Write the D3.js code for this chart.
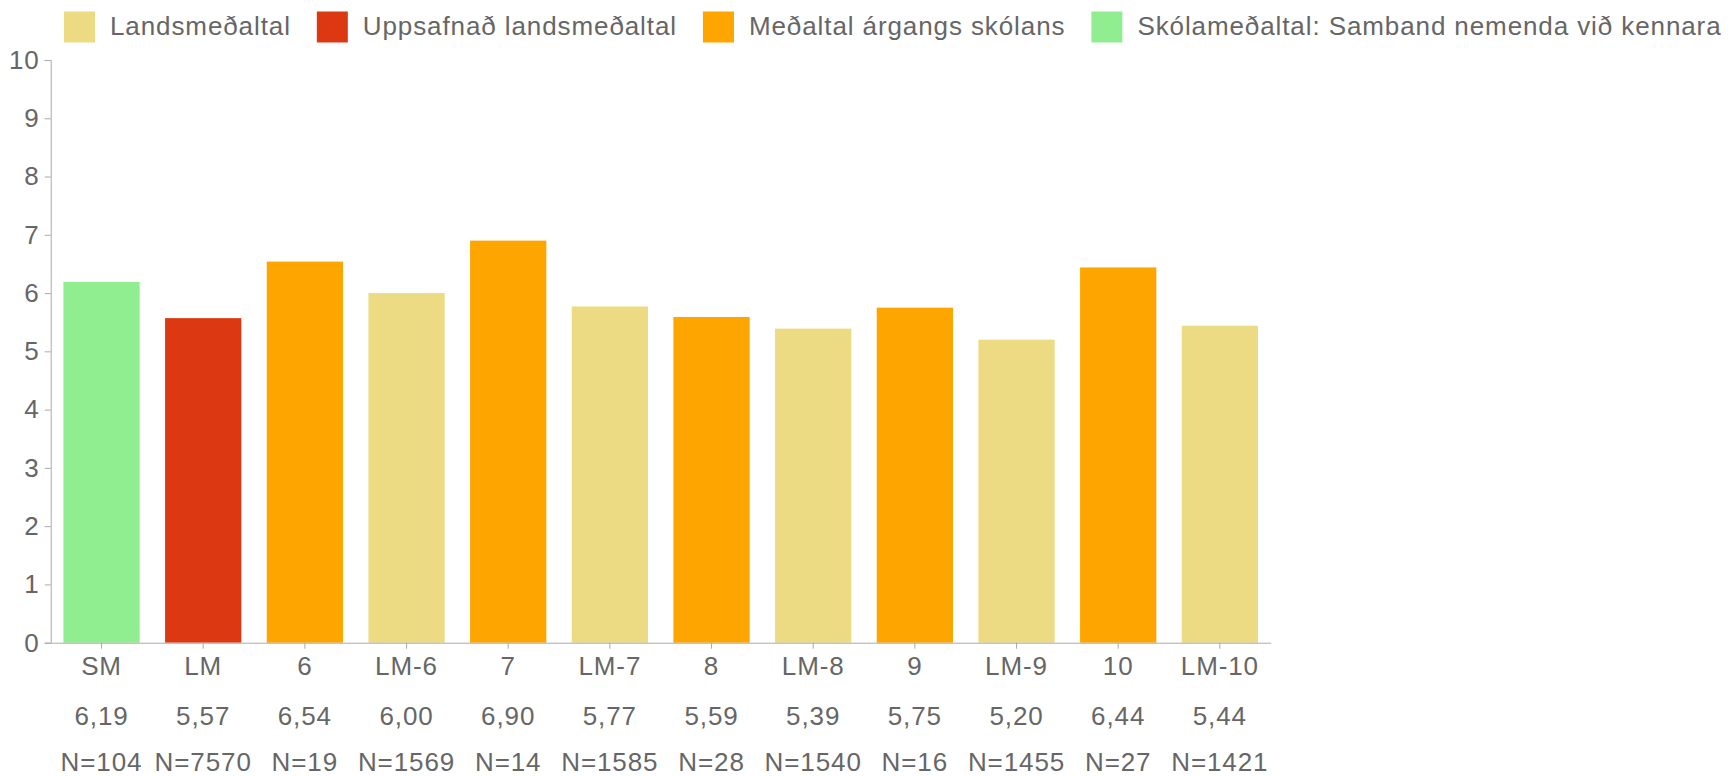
<!DOCTYPE html>
<html>
<head>
<meta charset="utf-8">
<script src="https://cdn.jsdelivr.net/npm/d3@7"></script>
<style>
  body { margin: 0; background: #fff; }
  svg { display: block; font-family: "Liberation Sans", Arial, Helvetica, sans-serif; letter-spacing: 0.9px; }
  .axis text { fill: #666; font-size: 26px; }
  .axis path, .axis line { stroke: #aaa; }
</style>
</head>
<body>
<svg id="chart" width="1731" height="776"></svg>
<script>
// categories, values and counts
const categories = ['SM', 'LM', '6', 'LM-6', '7', 'LM-7', '8', 'LM-8', '9', 'LM-9', '10', 'LM-10'];
const values = [6.19, 5.57, 6.54, 6.00, 6.90, 5.77, 5.59, 5.39, 5.75, 5.20, 6.44, 5.44];
const counts = [104, 7570, 19, 1569, 14, 1585, 28, 1540, 16, 1455, 27, 1421];
const seriesOf = [3, 1, 2, 0, 2, 0, 2, 0, 2, 0, 2, 0];

const legendLabels = ['Landsmeðaltal', 'Uppsafnað landsmeðaltal', 'Meðaltal árgangs skólans', 'Skólameðaltal: Samband nemenda við kennara'];
const legendColors = ['#ecdb83', '#dc3912', '#ffa500', '#90ee90'];
const yTicks = [0, 1, 2, 3, 4, 5, 6, 7, 8, 9, 10];

const svg = d3.select('#chart');
const isLocale = d3.formatLocale({ decimal: ',', thousands: '.', grouping: [3], currency: ['', ' kr.'] });
const fmt = isLocale.format('.2f');

const x = d3.scaleBand()
    .domain(categories)
    .range([50.7, 1270.7])
    .paddingInner(0.25)
    .paddingOuter(0.125);

const y = d3.scaleLinear()
    .domain([0, 10])
    .range([642.7, 60]);

// bars
svg.append('g')
    .selectAll('rect')
    .data(categories)
    .enter()
    .append('rect')
    .attr('x', d => x(d))
    .attr('width', x.bandwidth())
    .attr('y', (d, i) => y(values[i]))
    .attr('height', (d, i) => y(0) - y(values[i]))
    .attr('fill', (d, i) => legendColors[seriesOf[i]]);

// y axis
svg.append('g')
    .attr('class', 'axis')
    .attr('transform', 'translate(50.7,0)')
    .call(d3.axisLeft(y).tickValues(yTicks).tickSize(6).tickPadding(5));

// x axis
svg.append('g')
    .attr('class', 'axis')
    .attr('transform', `translate(0,${y(0)})`)
    .call(d3.axisBottom(x).tickSize(6).tickSizeOuter(0).tickPadding(8));

// mean values and N under each category label
const under = svg.append('g').attr('fill', '#666').attr('font-size', 26).attr('text-anchor', 'middle');
under.selectAll('text.val')
    .data(categories)
    .enter()
    .append('text')
    .attr('class', 'val')
    .attr('x', d => x(d) + x.bandwidth() / 2)
    .attr('y', 716)
    .attr('dy', '0.35em')
    .text((d, i) => fmt(values[i]));
under.selectAll('text.n')
    .data(categories)
    .enter()
    .append('text')
    .attr('class', 'n')
    .attr('x', d => x(d) + x.bandwidth() / 2)
    .attr('y', 762)
    .attr('dy', '0.35em')
    .text((d, i) => 'N=' + counts[i]);

// legend
const legend = svg.append('g');
let lx = 64;
legendLabels.forEach((label, i) => {
    legend.append('rect')
        .attr('x', lx)
        .attr('y', 11.5)
        .attr('width', 31)
        .attr('height', 31)
        .attr('fill', legendColors[i]);
    const t = legend.append('text')
        .attr('x', lx + 46)
        .attr('y', 26)
        .attr('dy', '0.35em')
        .attr('fill', '#666')
        .attr('font-size', 26)
        .text(label);
    lx += 46 + t.node().getComputedTextLength() + 26;
});
</script>
</body>
</html>
